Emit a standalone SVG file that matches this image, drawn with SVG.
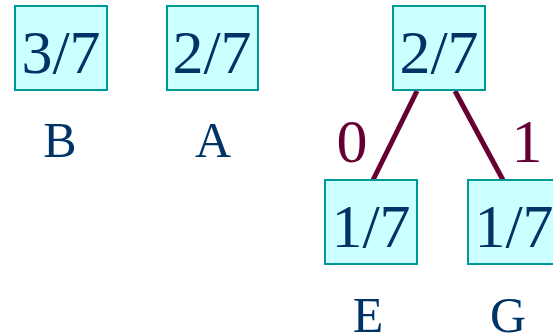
<svg xmlns="http://www.w3.org/2000/svg" width="553" height="334" viewBox="0 0 553 334">
<style>
.box{fill:#ccffff;stroke:#009999;stroke-width:2}
.num{font-family:"Liberation Serif","Times New Roman",serif;font-size:62px;fill:#003366;text-anchor:middle}
.lbl{font-family:"Liberation Serif","Times New Roman",serif;font-size:50px;fill:#003366;text-anchor:middle}
.bit{font-family:"Liberation Serif","Times New Roman",serif;font-size:62px;fill:#660033;text-anchor:middle}
.edge{stroke:#660033;stroke-width:5;fill:none}
</style>
<rect width="553" height="334" fill="#ffffff"/>
<g id="connectors">
<line class="edge" x1="417" y1="91" x2="373" y2="180"/>
<line class="edge" x1="455" y1="91" x2="503" y2="180"/>
<text class="bit" x="352" y="162">0</text>
<text class="bit" x="527" y="162">1</text>
</g>
<g id="nodeB">
<rect class="box" x="15" y="6" width="92" height="84"/>
<text class="num" x="61" y="73">3/7</text>
<text class="lbl" x="60" y="157">B</text>
</g>
<g id="nodeA">
<rect class="box" x="167" y="6" width="91" height="84"/>
<text class="num" x="212" y="73">2/7</text>
<text class="lbl" x="213" y="157">A</text>
</g>
<g id="nodeAEG">
<rect class="box" x="393" y="6" width="92" height="84"/>
<text class="num" x="439" y="73">2/7</text>
</g>
<g id="nodeE">
<rect class="box" x="325" y="180" width="92" height="84"/>
<text class="num" x="371" y="247">1/7</text>
<text class="lbl" x="368" y="332">E</text>
</g>
<g id="nodeG">
<rect class="box" x="468" y="180" width="92" height="84"/>
<text class="num" x="514" y="247">1/7</text>
<text class="lbl" x="508" y="332">G</text>
</g>
</svg>
